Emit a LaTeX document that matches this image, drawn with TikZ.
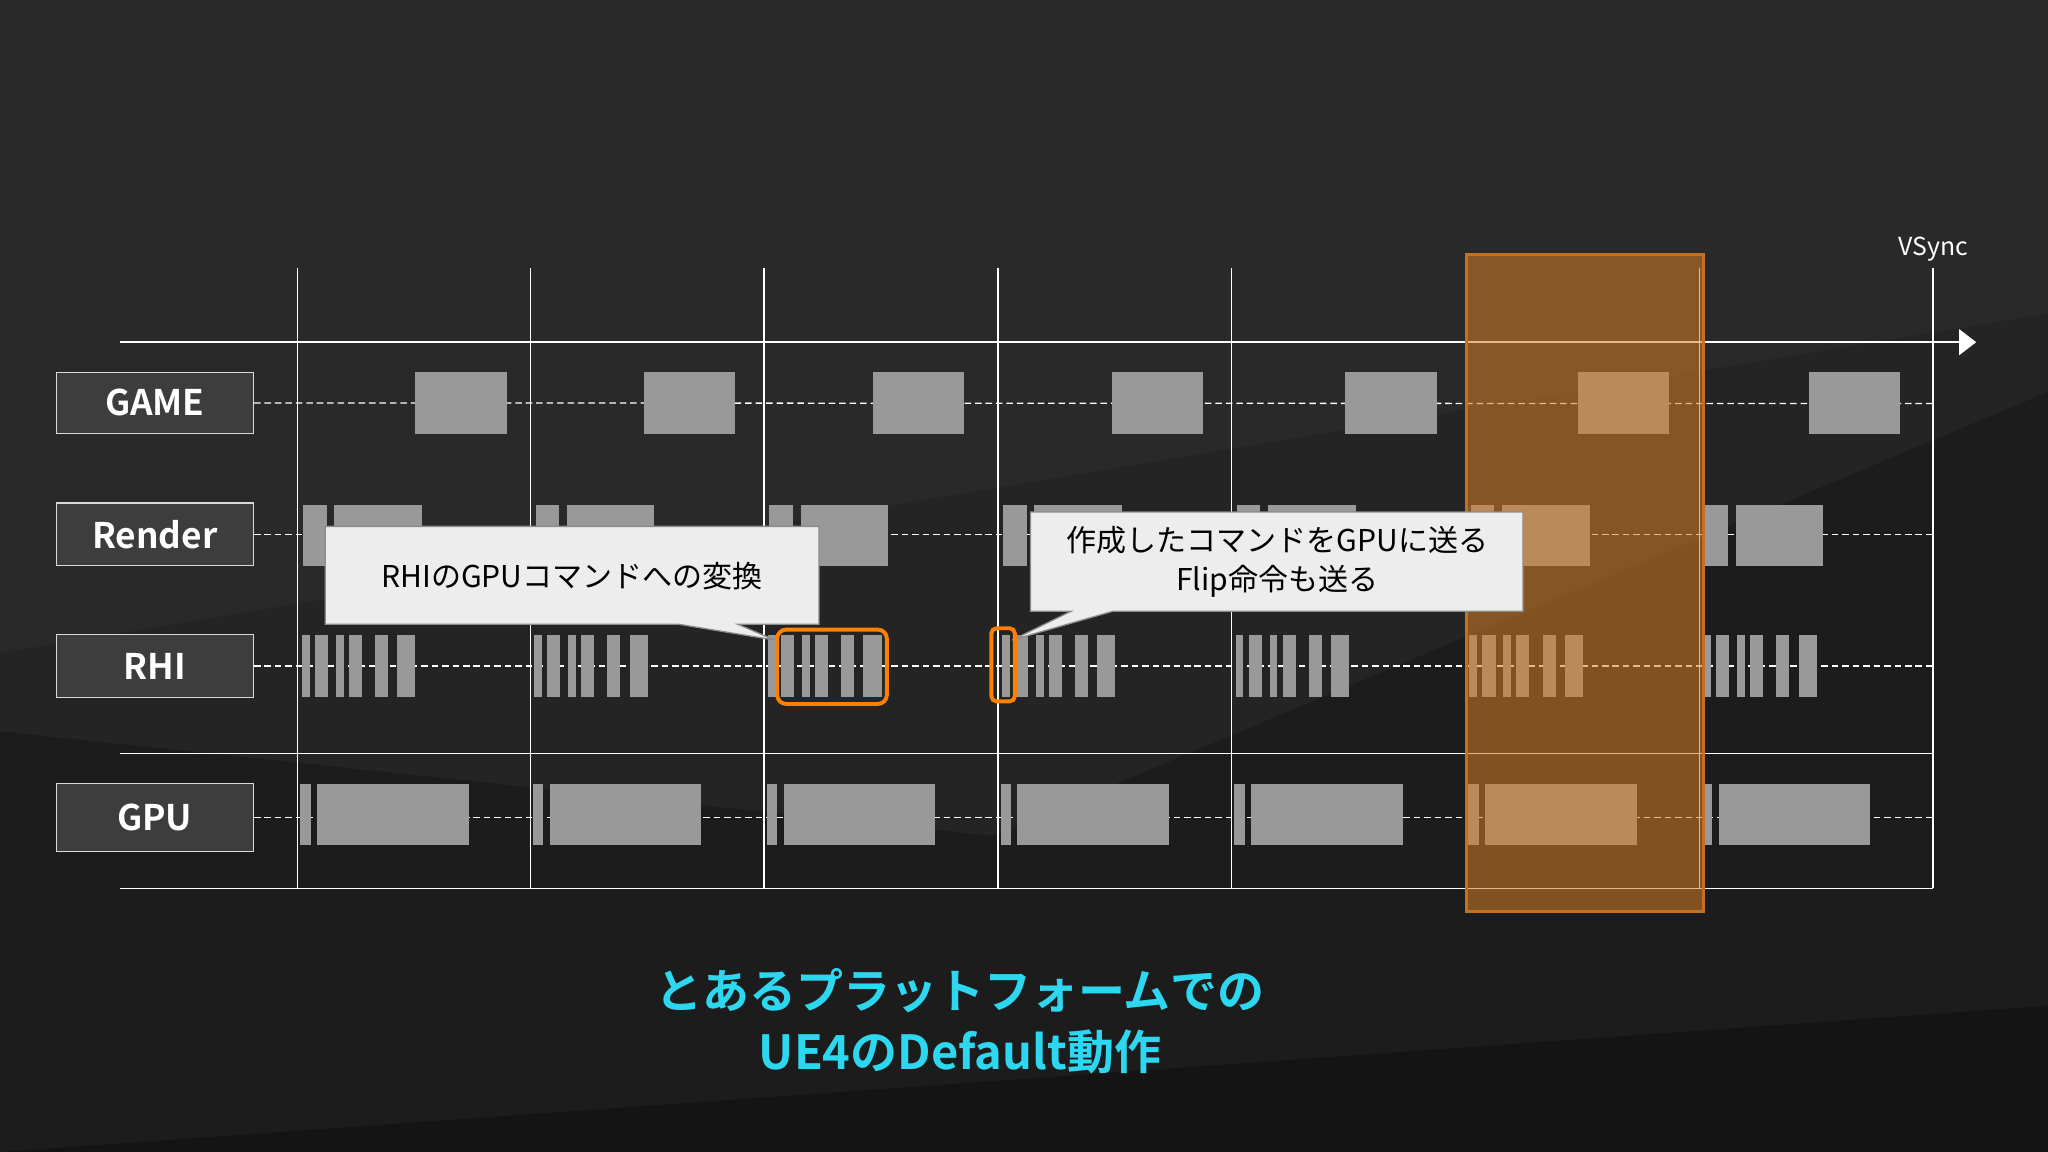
\documentclass[tikz,border=0pt]{standalone}
\usepackage{fontspec}
\setmainfont{Noto Sans CJK JP}
\newfontfamily\jpb{Noto Sans CJK JP Bold}
\definecolor{ocol}{RGB}{214,126,40}
\definecolor{tcol}{RGB}{45,215,240}
\begin{document}
\begin{tikzpicture}[x=1pt,y=-1pt,
  lbl/.style={draw=white!85!black,fill=black!76,line width=1pt,text=white,font=\jpb\fontsize{27}{27}\selectfont},
  blk/.style={fill=black!40,draw=none},
  dsh/.style={white,dash pattern=on 5pt off 3pt,line width=1pt},
  callout/.style={fill=black!7,draw=black!45,line width=1pt},
  ctext/.style={text=black,font=\fontsize{23}{30}\selectfont,align=center}]
\useasboundingbox (0,0) rectangle (1568,882);
\fill[black!84] (0,0) rectangle (1568,882);
\fill[black!86] (0,500) -- (1568,240) -- (1568,882) -- (0,882) -- cycle;
\fill[black!89] (0,560) -- (760,640) -- (1568,300) -- (1568,882) -- (0,882) -- cycle;
\fill[black!92] (0,882) -- (1568,770) -- (1568,882) -- cycle;
% axes
\draw[white,line width=1.2pt] (92,262) -- (1500,262);
\fill[white] (1500,252) -- (1513,262) -- (1500,272) -- cycle;
\draw[white,line width=1pt] (92,577) -- (1480,577) (92,680) -- (1480,680);
\foreach \x in {228,406,585,764,943,1122,1301,1480} \draw[white,line width=1pt] (\x,205) -- (\x,680);
\node[text=white,font=\fontsize{19}{19}\selectfont] (vs) at (1480,191) {VSync};
% labels
\node[lbl,minimum width=151pt,minimum height=47pt] (game) at (118.5,308.5) {GAME};
\node[lbl,minimum width=151pt,minimum height=48pt] (render) at (118.5,409) {Render};
\node[lbl,minimum width=151pt,minimum height=48pt] (rhi) at (118.5,510) {RHI};
\node[lbl,minimum width=151pt,minimum height=52pt] (gpu) at (118.5,626) {GPU};
\draw[dsh] (game.east) -- (1480,309);
\draw[dsh] (render.east) -- (1480,409);
\draw[dsh] (rhi.east) -- (1480,510);
\draw[dsh] (gpu.east) -- (1480,626);
% blocks
\foreach \g in {318,493,668,851,1030,1208,1385} \fill[blk] (\g,285) rectangle ++(70,47);
\foreach \x in {228,406,585,764,943,1122,1301}{
  \fill[blk] (\x+4,387) rectangle ++(18,46);
  \fill[blk] (\x+28,387) rectangle ++(67,46);
  \foreach \a/\w in {3/6,13/10,29/6,39/10,59/10,76/14} \fill[blk] (\x+\a,486) rectangle ++(\w,48);
  \fill[blk] (\x+2,600) rectangle ++(8,47);
  \fill[blk] (\x+15,600) rectangle ++(116,47);
}
% orange column
\fill[ocol,opacity=0.55] (1123,195) rectangle (1304,698);
\draw[ocol!90!black,line width=2.5pt] (1123,195) rectangle (1304,698);
% callouts
\filldraw[callout] (249,403) -- (627,403) -- (627,478) -- (565,478) -- (593,490) -- (520,478) -- (249,478) -- cycle;
\node[ctext] (c1) at (438,441) {RHIのGPUコマンドへの変換};
\draw[orange,line width=3pt,rounded corners=7pt] (595,482) rectangle (679,539);
\filldraw[callout] (789,392) -- (1166,392) -- (1166,468) -- (852,468) -- (775,490) -- (820,468) -- (789,468) -- cycle;
\node[ctext] (c2) at (978,430) {作成したコマンドをGPUに送る\\Flip命令も送る};
\draw[orange,line width=3pt,rounded corners=4pt] (759,481) rectangle (777,537);
% title
\node[text=tcol,font=\jpb\fontsize{36}{47}\selectfont,align=center] (title) at (735,782) {とあるプラットフォームでの\\UE4のDefault動作};
\end{tikzpicture}
\end{document}
